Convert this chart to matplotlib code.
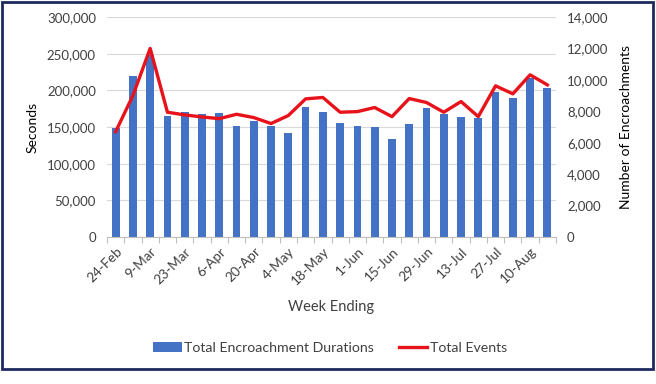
import matplotlib
matplotlib.use("Agg")
import matplotlib.pyplot as plt
from matplotlib.patches import Rectangle, Patch
from matplotlib.lines import Line2D
from matplotlib.ticker import FuncFormatter, FixedLocator

weeks = ["24-Feb", "2-Mar", "9-Mar", "16-Mar", "23-Mar", "30-Mar", "6-Apr", "13-Apr",
         "20-Apr", "27-Apr", "4-May", "11-May", "18-May", "25-May", "1-Jun", "8-Jun",
         "15-Jun", "22-Jun", "29-Jun", "6-Jul", "13-Jul", "20-Jul", "27-Jul", "3-Aug",
         "10-Aug", "17-Aug"]
durations = [149000, 220000, 248000, 165000, 171000, 168000, 169000, 152000,
             158000, 152000, 142000, 177000, 170000, 156000, 151000, 149500,
             133000, 154000, 176000, 168000, 164000, 162000, 198000, 190000,
             217000, 203000]
events = [6700, 9000, 12000, 7940, 7770, 7640, 7530, 7810,
          7600, 7220, 7730, 8790, 8880, 7940, 7980, 8240,
          7660, 8810, 8560, 7940, 8620, 7660, 9620, 9110,
          10320, 9680]

plt.rcParams['font.family'] = ['Lato', 'DejaVu Sans']
txt = '#404040'

fig = plt.figure(figsize=(6.56, 3.84), dpi=100)
ax = fig.add_axes([107/656, 1-237/384, (556-107)/656, (237-17)/384])
x = list(range(len(weeks)))
ax.bar(x, durations, width=0.45, color='#4472c4', zorder=2)
ax.set_xlim(-0.5, len(weeks)-0.5)
ax.set_ylim(0, 300000)
ax.set_yticks(range(0, 300001, 50000))
ax.yaxis.set_major_formatter(FuncFormatter(lambda v, p: f"{int(v):,}"))
ax.grid(axis='y', color='#d9d9d9', linewidth=0.8, zorder=0)
for s in ['top', 'right', 'left']:
    ax.spines[s].set_visible(False)
ax.spines['bottom'].set_color('#bfbfbf')
ax.tick_params(axis='y', length=0, labelsize=9.5, labelcolor=txt, pad=8)

ax.xaxis.set_major_locator(FixedLocator([i-0.5 for i in range(len(weeks)+1)]))
ax.xaxis.set_major_formatter(FuncFormatter(lambda v, p: ""))
ax.xaxis.set_minor_locator(FixedLocator(x[::2]))
ax.set_xticklabels([weeks[i] for i in x[::2]], minor=True, rotation=45,
                   ha='right', va='top', rotation_mode='anchor')
ax.tick_params(axis='x', which='major', length=4, color='#bfbfbf')
ax.tick_params(axis='x', which='minor', length=0, labelsize=9.8, labelcolor=txt, pad=6)
ax.set_ylabel("Seconds", fontsize=10, color='black', labelpad=6)
ax.set_xlabel("Week Ending", fontsize=10.5, color=txt, labelpad=9)

ax2 = ax.twinx()
ax2.plot(x, events, color='#e8121b', linewidth=2.4, zorder=3)
ax2.set_ylim(0, 14000)
ax2.set_yticks(range(0, 14001, 2000))
ax2.yaxis.set_major_formatter(FuncFormatter(lambda v, p: f"{int(v):,}"))
for s in ['top', 'right', 'left', 'bottom']:
    ax2.spines[s].set_visible(False)
ax2.tick_params(axis='y', length=0, labelsize=9.5, labelcolor=txt, pad=8)
ax2.set_ylabel("Number of Encroachments", fontsize=10, color='black', labelpad=8)

handles = [Patch(facecolor='#4472c4', edgecolor='none'),
           Line2D([0], [0], color='#e8121b', linewidth=2.4)]
fig.legend(handles, ["Total Encroachment Durations", "Total Events"],
           loc='center', bbox_to_anchor=(330/656, 1-348/384), ncol=2, frameon=False,
           fontsize=10.2, handlelength=2.0, handletextpad=0.15, columnspacing=1.8,
           labelcolor=txt)

fig.patches.append(Rectangle((2/656, 1-369/384), (653-2)/656, (369-2)/384,
                             transform=fig.transFigure, fill=False,
                             edgecolor='#1f2a5e', linewidth=2))
fig.savefig("out.png", dpi=100, facecolor='white')
